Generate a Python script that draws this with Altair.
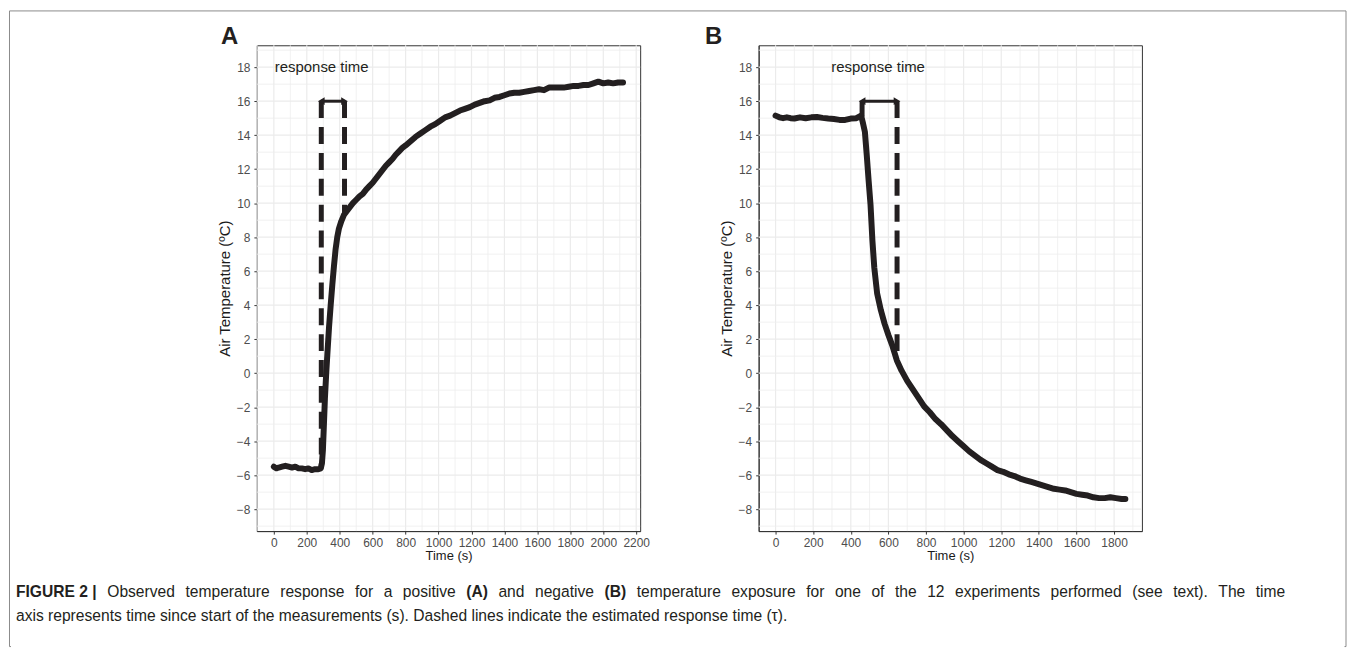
import altair as alt
import pandas as pd

# ---------------- data ----------------
A_time = [0, 15, 30, 50, 70, 90, 110, 130, 150, 170,
          190, 210, 230, 250, 270, 285, 292, 298, 304, 310,
          318, 326, 335, 345, 355, 365, 375, 385, 395, 410,
          425, 440, 460, 480, 500, 520, 540, 560, 580, 600,
          620, 640, 660, 680, 700, 720, 740, 760, 780, 800,
          830, 860, 890, 920, 950, 980, 1010, 1040, 1070, 1100,
          1130, 1160, 1190, 1220, 1250, 1280, 1310, 1340, 1370, 1400,
          1430, 1460, 1490, 1520, 1550, 1580, 1610, 1640, 1670, 1700,
          1730, 1760, 1790, 1820, 1850, 1880, 1910, 1940, 1970, 2000,
          2030, 2060, 2090, 2120]
A_temp = [-5.5, -5.6, -5.55, -5.5, -5.45, -5.5, -5.55, -5.5, -5.6, -5.6,
          -5.65, -5.6, -5.7, -5.65, -5.65, -5.6, -5.3, -4.5, -3.0, -1.5,
          0.0, 1.3, 2.7, 4.0, 5.2, 6.3, 7.3, 8.0, 8.5, 8.95,
          9.3, 9.5, 9.75, 10.0, 10.2, 10.4, 10.55, 10.8, 11.0, 11.2,
          11.45, 11.7, 11.95, 12.2, 12.4, 12.6, 12.85, 13.05, 13.25, 13.4,
          13.65, 13.9, 14.1, 14.3, 14.5, 14.65, 14.85, 15.05, 15.15, 15.3,
          15.45, 15.55, 15.65, 15.8, 15.9, 16.0, 16.05, 16.2, 16.25, 16.35,
          16.45, 16.5, 16.5, 16.55, 16.6, 16.65, 16.7, 16.65, 16.8, 16.8,
          16.8, 16.8, 16.85, 16.9, 16.9, 16.95, 16.95, 17.05, 17.15, 17.05,
          17.1, 17.05, 17.1, 17.1]

B_time = [0, 20, 40, 60, 80, 100, 130, 160, 190, 220,
          250, 280, 310, 340, 370, 400, 430, 455, 465, 475,
          485, 495, 505, 515, 525, 540, 560, 580, 600, 620,
          645, 670, 700, 730, 760, 790, 820, 850, 880, 910,
          940, 970, 1000, 1030, 1060, 1090, 1120, 1150, 1180, 1210,
          1240, 1270, 1300, 1330, 1360, 1390, 1420, 1450, 1480, 1510,
          1540, 1570, 1600, 1630, 1660, 1690, 1720, 1750, 1780, 1810,
          1840, 1860]
B_temp = [15.15, 15.05, 15.0, 15.05, 15.0, 14.98, 15.05, 15.0, 15.05, 15.07,
          15.02, 14.98, 14.95, 14.9, 14.9, 14.98, 15.0, 15.15, 14.7, 14.2,
          12.8, 11.3, 9.9, 7.8, 6.2, 4.7, 3.7, 2.9, 2.25, 1.65,
          0.75, 0.15, -0.45, -0.95, -1.45, -1.95, -2.3, -2.7, -3.0, -3.35,
          -3.7, -4.0, -4.3, -4.6, -4.85, -5.1, -5.3, -5.5, -5.7, -5.8,
          -5.95, -6.05, -6.2, -6.3, -6.4, -6.5, -6.6, -6.7, -6.8, -6.85,
          -6.9, -7.0, -7.1, -7.15, -7.2, -7.3, -7.35, -7.35, -7.3, -7.35,
          -7.4, -7.4]

panel_labels = ["A", "B"]
resp_start = [288, 460]
resp_end = [429, 646]
resp_start_bottom = [-5.6, 15.1]
resp_end_bottom = [9.4, 0.75]
arrow_level = [16, 16]
note_text = ["response time", "response time"]
note_x = [290, 545]
note_y = [18, 18]
x_domains = [[-103, 2224], [-90, 1948]]
x_label_ticks = [list(range(0, 2201, 200)), list(range(0, 1801, 200))]
x_grid_major = [list(range(0, 2201, 200)), list(range(0, 1801, 200))]
x_grid_minor = [list(range(-100, 2201, 200)), list(range(100, 1901, 200))]
y_domain = [-9.29, 19.29]
y_label_ticks = list(range(-8, 19, 2))
y_grid_minor = list(range(-9, 20, 2))

caption_line1 = [
    ("FIGURE 2 |", "bold"),
    ("Observed", "normal"), ("temperature", "normal"), ("response", "normal"),
    ("for", "normal"), ("a", "normal"), ("positive", "normal"), ("(A)", "bold"),
    ("and", "normal"), ("negative", "normal"), ("(B)", "bold"),
    ("temperature", "normal"), ("exposure", "normal"), ("for", "normal"),
    ("one", "normal"), ("of", "normal"), ("the", "normal"), ("12", "normal"),
    ("experiments", "normal"), ("performed", "normal"), ("(see", "normal"),
    ("text).", "normal"), ("The", "normal"), ("time", "normal"),
]
caption_line2 = "axis represents time since start of the measurements (s). Dashed lines indicate the estimated response time (\u03c4)."

FONT = "Liberation Sans"
INK = "#231F20"
W, H = 385, 488
A_LEFT, A_TOP = 257, 43  # page position of panel A plot area (for decorations)
CAP_SIZE = 15.7
CAP_LEFT, CAP_RIGHT = 15, 1290

# Arial / Liberation Sans advance widths (per 1000 em) for justified caption layout
_REG = {" ": 278, "(": 333, ")": 333, ".": 278, "|": 260, "A": 667, "B": 667,
        "O": 778, "T": 611, "F": 611, "I": 278, "G": 778, "U": 722, "R": 722, "E": 667}
_REG.update({d: 556 for d in "0123456789"})
_REG.update(dict(zip("abcdefghijklmnopqrstuvwxyz",
                     [556, 556, 500, 556, 556, 278, 556, 556, 222, 222, 500, 222, 833,
                      556, 556, 556, 556, 333, 500, 278, 556, 500, 722, 500, 500, 500])))
_BOLD = {" ": 278, "(": 333, ")": 333, "|": 280, "A": 722, "B": 722, "F": 611,
         "I": 278, "G": 778, "U": 722, "R": 722, "E": 667}
_BOLD.update({d: 556 for d in "0123456789"})


def text_width(s, weight):
    table = _BOLD if weight == "bold" else _REG
    return sum(table.get(c, 556) for c in s) * CAP_SIZE / 1000.0


def justified_positions(words):
    widths = [text_width(w, wt) for w, wt in words]
    gap = (CAP_RIGHT - CAP_LEFT - sum(widths)) / (len(words) - 1)
    xs, x = [], CAP_LEFT
    for wdt in widths:
        xs.append(x)
        x += wdt + gap
    return xs


def one_row():
    return alt.Data(values=[{"k": 0}])


def panel(i, t, v):
    df = pd.DataFrame({"t": t, "v": v})
    xs = alt.Scale(domain=x_domains[i], nice=False, zero=False)
    ys = alt.Scale(domain=y_domain, nice=False, zero=False)
    xaxis = alt.Axis(
        values=x_label_ticks[i], tickCount=40, format="d", grid=False,
        title="Time (s)", titleFontSize=13, labelOverlap=False,
        labelPadding=3, titlePadding=2,
    )
    yaxis = alt.Axis(
        values=y_label_ticks, tickCount=40, format="d", grid=False,
        title="Air Temperature (\u00baC)", titleFontSize=15, labelOverlap=False,
        labelPadding=4, titlePadding=4,
    )
    gx_major = alt.Chart(pd.DataFrame({"t": x_grid_major[i]})).mark_rule(
        color="#EBEBEB", strokeWidth=1.2).encode(x=alt.X("t:Q", scale=xs, axis=xaxis))
    gx_minor = alt.Chart(pd.DataFrame({"t": x_grid_minor[i]})).mark_rule(
        color="#EDEDED", strokeWidth=0.8).encode(x="t:Q")
    gy_major = alt.Chart(pd.DataFrame({"v": y_label_ticks})).mark_rule(
        color="#EBEBEB", strokeWidth=1.2).encode(y=alt.Y("v:Q", scale=ys, axis=yaxis))
    gy_minor = alt.Chart(pd.DataFrame({"v": y_grid_minor})).mark_rule(
        color="#EDEDED", strokeWidth=0.8).encode(y="v:Q")

    line = alt.Chart(df).mark_line(
        color=INK, strokeWidth=6, strokeJoin="round", strokeCap="round"
    ).encode(x="t:Q", y="v:Q")
    seg = pd.DataFrame({
        "t": [resp_start[i], resp_end[i]],
        "v": [arrow_level[i], arrow_level[i]],
        "v2": [resp_start_bottom[i], resp_end_bottom[i]],
    })
    dashed = alt.Chart(seg).mark_rule(
        strokeDash=[17, 9], strokeWidth=5, color=INK
    ).encode(x="t:Q", y="v:Q", y2="v2:Q")
    arr = pd.DataFrame({"t": [resp_start[i]], "t2": [resp_end[i]], "v": [arrow_level[i]]})
    arrow = alt.Chart(arr).mark_rule(strokeWidth=3, color=INK).encode(
        x="t:Q", x2="t2:Q", y="v:Q")
    head_l = alt.Chart(pd.DataFrame({"t": [resp_start[i]], "v": [arrow_level[i]]})).mark_point(
        shape="triangle-left", filled=True, size=60, color=INK, opacity=1
    ).encode(x="t:Q", y="v:Q")
    head_r = alt.Chart(pd.DataFrame({"t": [resp_end[i]], "v": [arrow_level[i]]})).mark_point(
        shape="triangle-right", filled=True, size=60, color=INK, opacity=1
    ).encode(x="t:Q", y="v:Q")
    note = alt.Chart(pd.DataFrame({"t": [note_x[i]], "v": [note_y[i]], "txt": [note_text[i]]})).mark_text(
        font=FONT, fontSize=15, color=INK, align="center", baseline="middle"
    ).encode(x="t:Q", y="v:Q", text="txt:N")
    tag = alt.Chart(one_row()).mark_text(
        text=panel_labels[i], font=FONT, fontSize=24, fontWeight="bold",
        color=INK, align="left", baseline="alphabetic"
    ).encode(x=alt.value(-36 if i == 0 else -54), y=alt.value(-1))
    layers = [gx_major, gx_minor, gy_major, gy_minor, line, dashed, arrow, head_l, head_r, note, tag]
    if i == 0:
        # outer figure frame; its bottom edge is masked so it appears to run off the page
        frame = alt.Chart(one_row()).mark_rect(
            fillOpacity=0, stroke="#8a8a8a", strokeWidth=1
        ).encode(
            x=alt.value(8.5 - A_LEFT), x2=alt.value(1351 - A_LEFT),
            y=alt.value(8.5 - A_TOP), y2=alt.value(647 - A_TOP),
        )
        mask = alt.Chart(one_row()).mark_rule(color="white", strokeWidth=3).encode(
            x=alt.value(10 - A_LEFT), x2=alt.value(1349.5 - A_LEFT),
            y=alt.value(647 - A_TOP),
        )
        layers += [frame, mask]
        for (txt, wgt), px in zip(caption_line1, justified_positions(caption_line1)):
            layers.append(
                alt.Chart(one_row()).mark_text(
                    text=txt, font=FONT, fontSize=CAP_SIZE, fontWeight=wgt,
                    color=INK, align="left", baseline="middle"
                ).encode(x=alt.value(px - A_LEFT), y=alt.value(592 - A_TOP))
            )
        layers.append(
            alt.Chart(one_row()).mark_text(
                text=caption_line2, font=FONT, fontSize=CAP_SIZE,
                color=INK, align="left", baseline="middle"
            ).encode(x=alt.value(CAP_LEFT - A_LEFT), y=alt.value(616 - A_TOP))
        )
    return alt.layer(*layers).properties(width=W, height=H)


pA = panel(0, A_time, A_temp)
pB = panel(1, B_time, B_temp)

chart = alt.hconcat(pA, pB, spacing=119).properties(
    bounds="flush", padding=0
).configure(font=FONT).configure_view(
    stroke="#333333", strokeWidth=1
).configure_axis(
    labelFont=FONT, titleFont=FONT, labelFontSize=12, labelColor="#4D4D4D",
    titleColor="#1A1A1A", titleFontWeight="normal",
    tickSize=3, tickColor="#333333", domainColor="#333333", domainWidth=1,
)

chart.save("out.html", embed_options={"renderer": "svg", "actions": False})
